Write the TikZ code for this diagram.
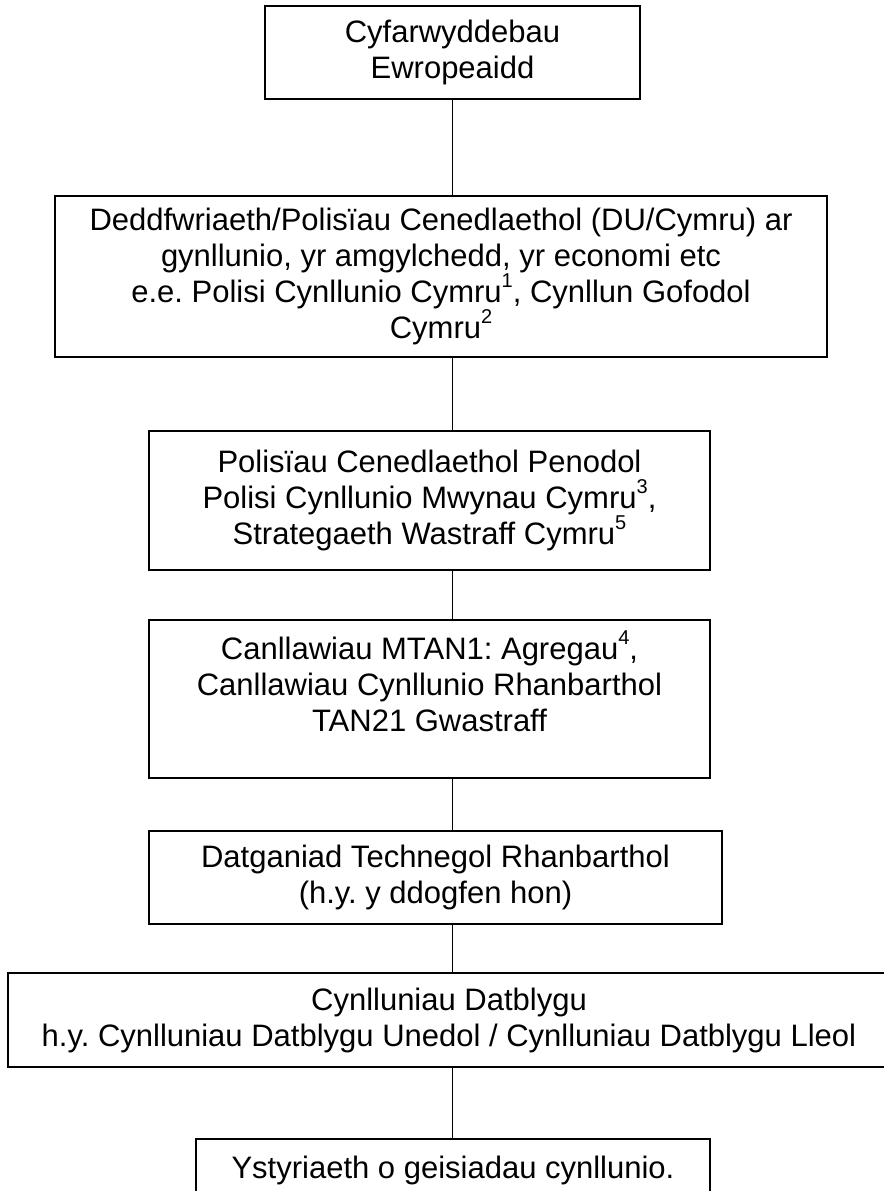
\documentclass[tikz,border=0pt]{standalone}
\usepackage{fontspec}
\setmainfont{Liberation Sans}
\usetikzlibrary{positioning}
\newcommand{\fnote}[1]{\raisebox{0.5em}{\fontsize{10}{10}\selectfont #1}}

\begin{document}
\begin{tikzpicture}[line width=0.8pt]
  \tikzstyle{every node}=[font=\fontsize{15.5}{18}\selectfont\frenchspacing]
  \tikzstyle{tier}=[draw,rectangle,line width=1pt,align=center,inner sep=0pt]
\useasboundingbox (0,0) rectangle (442pt,-595.5pt);
\node [tier,minimum width=187.5pt,minimum height=46.5pt] (eu) at (226.25pt,-26.25pt) {Cyfarwyddebau\\Ewropeaidd};
\node [tier,minimum width=386pt,minimum height=80.5pt] (natl) [below=47.5pt of eu,xshift=-5.75pt]
  {Deddfwriaeth/Polisïau Cenedlaethol (DU/Cymru) ar\\gynllunio, yr amgylchedd, yr economi etc\\e.e. Polisi Cynllunio Cymru\fnote{1}, Cynllun Gofodol\\Cymru\fnote{2}};
\node [tier,minimum width=280.5pt,minimum height=69.5pt] (spec) [below=36pt of natl,xshift=-5.75pt]
  {Polisïau Cenedlaethol Penodol\\Polisi Cynllunio Mwynau Cymru\fnote{3},\\Strategaeth Wastraff Cymru\fnote{5}};
\node [tier,minimum width=280.5pt,minimum height=79pt] (guide) [below=24pt of spec]
  {Canllawiau MTAN1: Agregau\fnote{4},\\Canllawiau Cynllunio Rhanbarthol\\TAN21 Gwastraff\\ \mbox{}};
\node [tier,minimum width=286.5pt,minimum height=46.5pt] (rts) [below=25.5pt of guide,xshift=3pt]
  {Datganiad Technegol Rhanbarthol\\(h.y. y ddogfen hon)};
\node [tier,minimum width=441pt,minimum height=47pt] (ldp) [below=23.5pt of rts,xshift=6.75pt]
  {Cynlluniau Datblygu\\h.y. Cynlluniau Datblygu Unedol / Cynlluniau Datblygu Lleol};
\node [tier,minimum width=257pt,minimum height=46.5pt] (apps) [below=35pt of ldp,xshift=2pt]
  {Ystyriaeth o geisiadau cynllunio.\\ \mbox{}};

\path (eu.south) edge (eu.south |- natl.north)
      (eu.south |- natl.south) edge (eu.south |- spec.north)
      (eu.south |- spec.south) edge (eu.south |- guide.north)
      (eu.south |- guide.south) edge (eu.south |- rts.north)
      (eu.south |- rts.south) edge (eu.south |- ldp.north)
      (eu.south |- ldp.south) edge (eu.south |- apps.north);

\end{tikzpicture}
\end{document}
